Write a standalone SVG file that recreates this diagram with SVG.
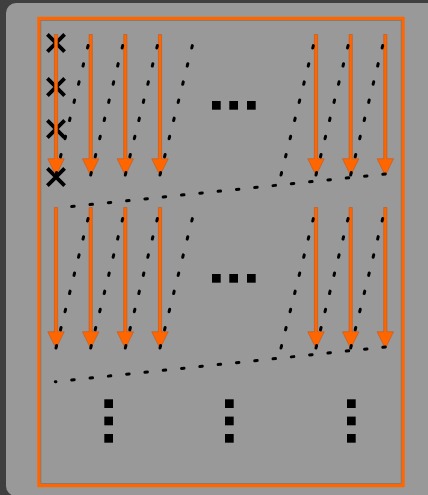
<svg xmlns="http://www.w3.org/2000/svg" xmlns:xlink="http://www.w3.org/1999/xlink" width="428" height="495" viewBox="0 0 428 495">
  <style>
    .dot { fill: none; stroke: #000; stroke-width: 3; stroke-linecap: round; }
    .dv { stroke-dasharray: 2.5 16.2; }
    .dh { stroke-dasharray: 2.5 15.9; }
    .arr { fill: #ff6600; stroke: #c4561a; stroke-width: 0.6; }
    .sq { fill: #000; }
    .x { stroke: #000; stroke-width: 3.8; fill: none; }
  </style>
  <defs>
    <path id="arrow" d="M-1.6,-141 H1.6 V-16.7 H8.2 L0,0 L-8.2,-16.7 H-1.6 Z"/>
    <path id="xm" d="M-8.6,-8.6 L8.6,8.6 M8.6,-8.6 L-8.6,8.6"/>
    <rect id="s" width="8.7" height="8.7"/>
  </defs>

  <rect x="0" y="0" width="428" height="495" fill="#3f3f3f"/>
  <rect id="panel" x="6" y="3" width="440" height="493" rx="10" fill="#999999"/>

  <g id="frame">
    <rect x="39" y="18.5" width="364" height="467" fill="none" stroke="#ff6600" stroke-width="3.4"/>
    <rect x="40.9" y="20.4" width="360.2" height="463.2" fill="none" stroke="#7a6a60" stroke-width="0.6"/>
  </g>

  <g id="crosses" class="x">
    <use xlink:href="#xm" x="56" y="43"/>
    <use xlink:href="#xm" x="56" y="87"/>
    <use xlink:href="#xm" x="56" y="129"/>
    <use xlink:href="#xm" x="56" y="177"/>
  </g>

  <g id="connectors">
    <g id="row1-arrows" class="arr">
      <use xlink:href="#arrow" x="56" y="175.5"/>
      <use xlink:href="#arrow" x="90.7" y="175.5"/>
      <use xlink:href="#arrow" x="125.3" y="175.5"/>
      <use xlink:href="#arrow" x="160" y="175.5"/>
      <use xlink:href="#arrow" x="316" y="175.5"/>
      <use xlink:href="#arrow" x="350.7" y="175.5"/>
      <use xlink:href="#arrow" x="385.3" y="175.5"/>
    </g>
    <g id="row2-arrows" class="arr">
      <use xlink:href="#arrow" x="56" y="348.5"/>
      <use xlink:href="#arrow" x="90.7" y="348.5"/>
      <use xlink:href="#arrow" x="125.3" y="348.5"/>
      <use xlink:href="#arrow" x="160" y="348.5"/>
      <use xlink:href="#arrow" x="316" y="348.5"/>
      <use xlink:href="#arrow" x="350.7" y="348.5"/>
      <use xlink:href="#arrow" x="385.3" y="348.5"/>
    </g>
    <g id="row1-dots" class="dot">
      <path class="dv" d="M56,175 L90.7,35"/>
      <path class="dv" d="M90.7,175 L125.3,35"/>
      <path class="dv" d="M125.3,175 L160,35"/>
      <path class="dv" d="M160,175 L195,35"/>
      <path class="dv" d="M281,175 L316,35"/>
      <path class="dv" d="M316,175 L350.7,35"/>
      <path class="dv" d="M350.7,175 L385.3,35"/>
      <path class="dh" d="M385.3,174 L57,208"/>
    </g>
    <g id="row2-dots" class="dot">
      <path class="dv" d="M56,348 L90.7,208"/>
      <path class="dv" d="M90.7,348 L125.3,208"/>
      <path class="dv" d="M125.3,348 L160,208"/>
      <path class="dv" d="M160,348 L195,208"/>
      <path class="dv" d="M281,348 L316,208"/>
      <path class="dv" d="M316,348 L350.7,208"/>
      <path class="dv" d="M350.7,348 L385.3,208"/>
      <path class="dh" d="M385.3,347 L55.3,381.7"/>
    </g>
  </g>

  <g id="ellipsis-row1" class="sq">
    <use xlink:href="#s" x="212" y="101"/>
    <use xlink:href="#s" x="229.3" y="101"/>
    <use xlink:href="#s" x="247" y="101"/>
  </g>
  <g id="ellipsis-row2" class="sq">
    <use xlink:href="#s" x="212" y="274"/>
    <use xlink:href="#s" x="229.3" y="274"/>
    <use xlink:href="#s" x="247" y="274"/>
  </g>
  <g id="vdots-1" class="sq">
    <use xlink:href="#s" x="104.3" y="399.3"/>
    <use xlink:href="#s" x="104.3" y="416.6"/>
    <use xlink:href="#s" x="104.3" y="434"/>
  </g>
  <g id="vdots-2" class="sq">
    <use xlink:href="#s" x="225" y="399.3"/>
    <use xlink:href="#s" x="225" y="416.6"/>
    <use xlink:href="#s" x="225" y="434"/>
  </g>
  <g id="vdots-3" class="sq">
    <use xlink:href="#s" x="347" y="399.3"/>
    <use xlink:href="#s" x="347" y="416.6"/>
    <use xlink:href="#s" x="347" y="434"/>
  </g>
</svg>
